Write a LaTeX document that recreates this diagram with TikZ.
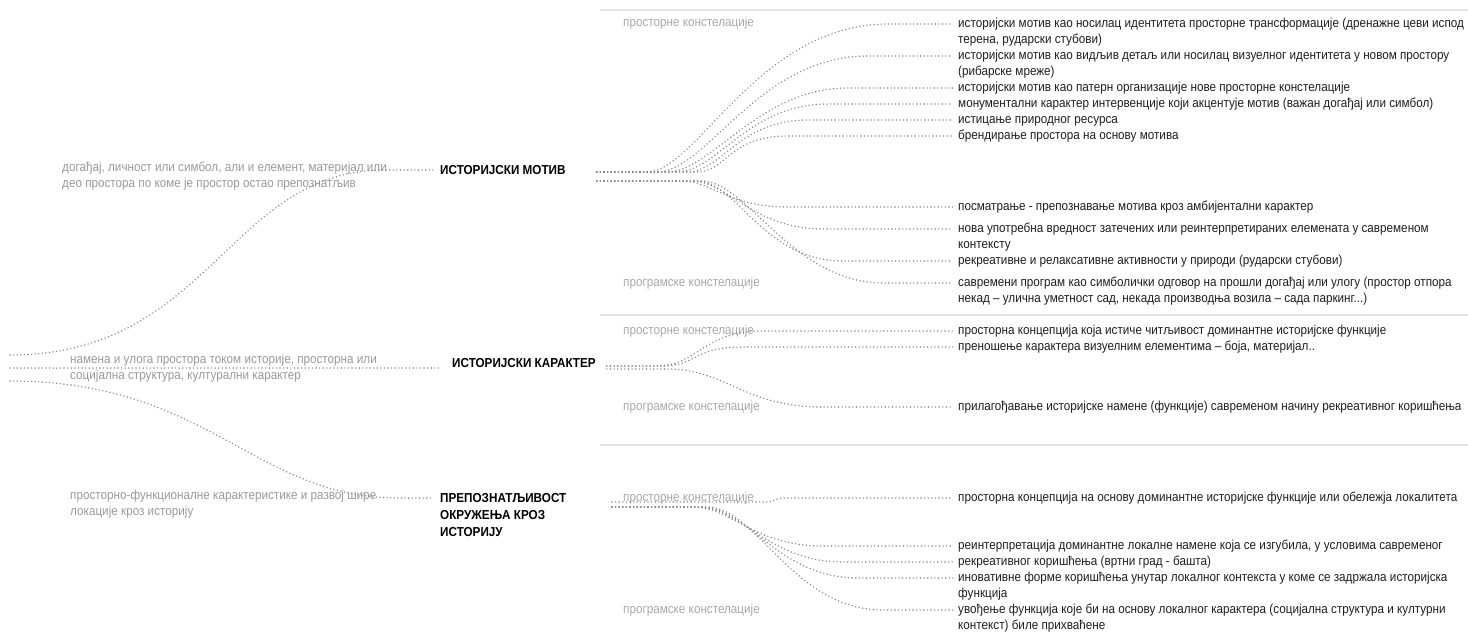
\documentclass[tikz,border=0pt]{standalone}
\usepackage{fontspec}
\setmainfont{Liberation Sans}[FakeStretch=0.9]
\usetikzlibrary{calc}
\definecolor{tekst}{HTML}{1E1E1E}
\definecolor{sivo}{HTML}{9A9A9A}
\definecolor{svetlo}{HTML}{A8A8A8}
\definecolor{tacka}{HTML}{8A8A8A}
\definecolor{linija}{HTML}{E3E3E3}
\tikzset{
  naslov/.style={anchor=west, inner sep=0pt, text height=9pt, text depth=0pt,
    font=\fontsize{13}{17}\selectfont\bfseries, text=black},
  naslovi/.style={anchor=north west, inner sep=0pt, align=left,
    font=\fontsize{13}{17}\selectfont\bfseries, text=black},
  stavka/.style={anchor=west, inner xsep=5pt, inner ysep=0pt, text height=9pt, text depth=2.8pt,
    font=\fontsize{13}{16}\selectfont, text=tekst},
  oznaka/.style={anchor=west, inner sep=0pt, text height=9pt, text depth=2.8pt,
    font=\fontsize{13}{16}\selectfont, text=svetlo},
  opis/.style={anchor=north west, inner sep=0pt, align=left,
    font=\fontsize{13}{16}\selectfont, text=sivo},
  tacke/.style={draw=tacka, line width=1.6pt, line cap=round, dash pattern=on 0pt off 3.6pt},
  razdelnik/.style={draw=linija, line width=1.2pt},
}
\begin{document}
\begin{tikzpicture}[x=1pt, y=-1pt]
  \useasboundingbox (0,0) rectangle (1468,634);
  % separators
  \draw[razdelnik] (600,10) -- (1468,10);
  \draw[razdelnik] (600,315) -- (1468,315);
  \draw[razdelnik] (600,445) -- (1468,445);

  % left column
  \node[opis] (opis-mot) at (62,162) {догађај, личност или симбол, али и елемент, материјал или\\део простора по коме је простор остао препознатљив};
  \node[opis] (opis-kar) at (70,354) {намена и улога простора током историје, просторна или\\социјална структура, културални карактер};
  \node[opis] (opis-pre) at (70,490) {просторно-функционалне карактеристике и развој шире\\локације кроз историју};

  \coordinate (l-top) at (10,355);
  \coordinate (l-mid) at (10,368);
  \coordinate (l-bot) at (10,381);

  % titles
  \node[naslov] (motiv) at (440,170) {ИСТОРИЈСКИ МОТИВ};
  \node[naslov] (karakter) at (452,363) {ИСТОРИЈСКИ КАРАКТЕР};
  \node[naslovi] (prepoz) at (440,493) {ПРЕПОЗНАТЉИВОСТ\\ОКРУЖЕЊА КРОЗ\\ИСТОРИЈУ};

  \draw[tacke] (l-top) .. controls +(200,0) and +(-156,0) .. (385,170) -- ([xshift=-7pt]motiv.west);
  \draw[tacke] (l-mid) -- ([xshift=-10pt]l-mid -| karakter.west);
  \draw[tacke] (l-bot) .. controls +(200,0) and +(-147,0) .. (400,498) -- ([shift={(-7pt,-5pt)}]prepoz.north west);

  % row labels
  \node[oznaka] (o1) at (623,23) {просторне констелације};
  \node[oznaka] (o2) at (623,283) {програмске констелације};
  \node[oznaka] (o3) at (623,331) {просторне констелације};
  \node[oznaka] (o4) at (623,407) {програмске констелације};
  \node[oznaka] (o5) at (623,498) {просторне констелације};
  \node[oznaka] (o6) at (623,610) {програмске констелације};

  % motiv items
  \node[stavka] (m1) at (953,24) {историјски мотив као носилац идентитета просторне трансформације (дренажне цеви испод};
  \node[stavka] (m1b) at (953,40) {терена, рударски стубови)};
  \node[stavka] (m2) at (953,56) {историјски мотив као видљив детаљ или носилац визуелног идентитета у новом простору};
  \node[stavka] (m2b) at (953,72) {(рибарске мреже)};
  \node[stavka] (m3) at (953,88) {историјски мотив као патерн организације нове просторне констелације};
  \node[stavka] (m4) at (953,104) {монументални карактер интервенције који акцентује мотив (важан догађај или симбол)};
  \node[stavka] (m5) at (953,120) {истицање природног ресурса};
  \node[stavka] (m6) at (953,136) {брендирање простора на основу мотива};
  \node[stavka] (m7) at (953,207) {посматрање - препознавање мотива кроз амбијентални карактер};
  \node[stavka] (m8) at (953,229) {нова употребна вредност затечених или реинтерпретираних елемената у савременом};
  \node[stavka] (m8b) at (953,245) {контексту};
  \node[stavka] (m9) at (953,261) {рекреативне и релаксативне активности у природи (рударски стубови)};
  \node[stavka] (m10) at (953,283) {савремени програм као симболички одговор на прошли догађај или улогу (простор отпора};
  \node[stavka] (m10b) at (953,299) {некад – улична уметност сад, некада производња возила – сада паркинг...)};

  % karakter items
  \node[stavka] (k1) at (953,331) {просторна концепција која истиче читљивост доминантне историјске функције};
  \node[stavka] (k2) at (953,347) {преношење карактера визуелним елементима – боја, материјал..};
  \node[stavka] (k3) at (953,407) {прилагођавање историјске намене (функције) савременом начину рекреативног коришћења};

  % prepoznatljivost items
  \node[stavka] (p1) at (953,498) {просторна концепција на основу доминантне историјске функције или обележја локалитета};
  \node[stavka] (p2) at (953,546) {реинтерпретација доминантне локалне намене која се изгубила, у условима савременог};
  \node[stavka] (p2b) at (953,562) {рекреативног коришћења (вртни град - башта)};
  \node[stavka] (p3) at (953,578) {иновативне форме коришћења унутар локалног контекста у коме се задржала историјска};
  \node[stavka] (p3b) at (953,594) {функција};
  \node[stavka] (p4) at (953,610) {увођење функција које би на основу локалног карактера (социјална структура и културни};
  \node[stavka] (p4b) at (953,626) {контекст) биле прихваћене};

  % bundle origins
  \coordinate (mot-up) at ([xshift=31pt,yshift=-2pt]motiv.east);
  \coordinate (mot-dn) at ([xshift=31pt,yshift=-11pt]motiv.east);
  \coordinate (kar-up) at ([xshift=11pt,yshift=-3pt]karakter.east);
  \coordinate (kar-dn) at ([xshift=11pt,yshift=-6pt]karakter.east);
  \coordinate (pre-up) at (612,502);
  \coordinate (pre-dn) at (612,507);

  % motiv fan
  \draw[tacke] (mot-up) -- ++(50,0) .. controls +(50,0) and +(-130,0) .. ([xshift=-65pt]m1.west) -- (m1.west);
  \draw[tacke] (mot-up) -- ++(60,0) .. controls +(50,0) and +(-110,0) .. ([xshift=-85pt]m2.west) -- (m2.west);
  \draw[tacke] (mot-up) -- ++(70,0) .. controls +(45,0) and +(-90,0) .. ([xshift=-105pt]m3.west) -- (m3.west);
  \draw[tacke] (mot-up) -- ++(80,0) .. controls +(40,0) and +(-80,0) .. ([xshift=-125pt]m4.west) -- (m4.west);
  \draw[tacke] (mot-up) -- ++(90,0) .. controls +(35,0) and +(-70,0) .. ([xshift=-145pt]m5.west) -- (m5.west);
  \draw[tacke] (mot-up) -- ++(100,0) .. controls +(30,0) and +(-60,0) .. ([xshift=-165pt]m6.west) -- (m6.west);
  \draw[tacke] (mot-dn) -- ++(85,0) .. controls +(30,0) and +(-60,0) .. ([xshift=-165pt]m7.west) -- (m7.west);
  \draw[tacke] (mot-dn) -- ++(95,0) .. controls +(35,0) and +(-70,0) .. ([xshift=-130pt]m8.west) -- (m8.west);
  \draw[tacke] (mot-dn) -- ++(100,0) .. controls +(40,0) and +(-80,0) .. ([xshift=-110pt]m9.west) -- (m9.west);
  \draw[tacke] (mot-dn) -- ++(105,0) .. controls +(45,0) and +(-90,0) .. ([xshift=-70pt]m10.west) -- (m10.west);

  % karakter fan
  \draw[tacke] (kar-up) -- ++(50,0) .. controls +(40,0) and +(-60,0) .. ([xshift=-190pt]k1.west) -- (k1.west);
  \draw[tacke] (kar-up) -- ++(55,0) .. controls +(35,0) and +(-50,0) .. ([xshift=-210pt]k2.west) -- (k2.west);
  \draw[tacke] (kar-dn) -- ++(60,0) .. controls +(60,0) and +(-80,0) .. ([xshift=-130pt]k3.west) -- (k3.west);

  % prepoznatljivost fan
  \draw[tacke] (pre-up) -- ++(150,0) .. controls +(20,0) and +(-20,0) .. ([xshift=-165pt]p1.west) -- (p1.west);
  \draw[tacke] (pre-dn) -- ++(80,0) .. controls +(40,0) and +(-70,0) .. ([xshift=-130pt]p2.west) -- (p2.west);
  \draw[tacke] (pre-dn) -- ++(85,0) .. controls +(45,0) and +(-75,0) .. ([xshift=-110pt]p2b.west) -- (p2b.west);
  \draw[tacke] (pre-dn) -- ++(90,0) .. controls +(45,0) and +(-80,0) .. ([xshift=-95pt]p3.west) -- (p3.west);
  \draw[tacke] (pre-dn) -- ++(95,0) .. controls +(50,0) and +(-90,0) .. ([xshift=-70pt]p4.west) -- (p4.west);
\end{tikzpicture}
\end{document}
